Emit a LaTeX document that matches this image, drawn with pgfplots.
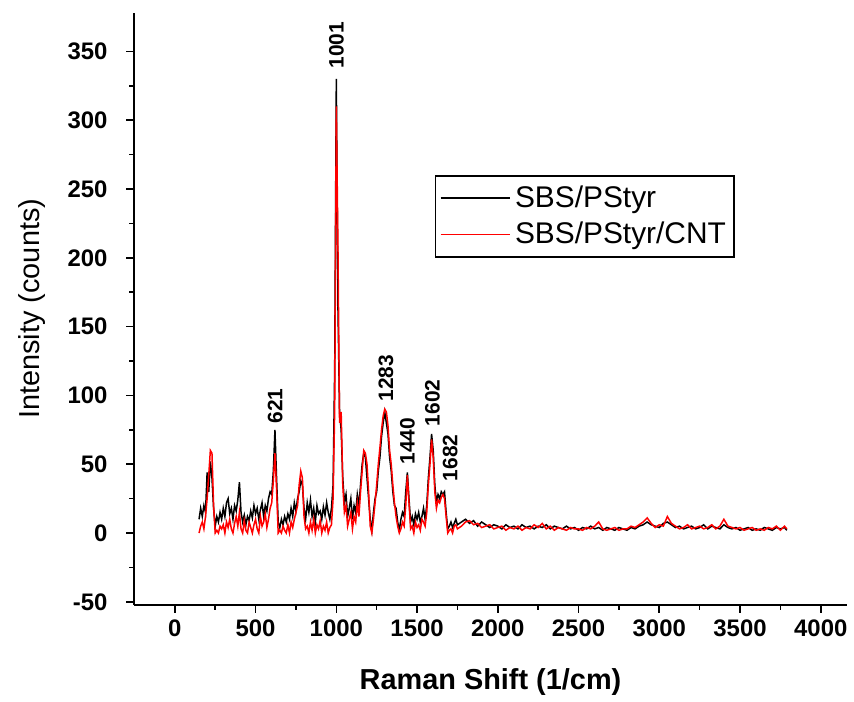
\documentclass[border=0pt]{standalone}
\usepackage{fontspec}
\setmainfont{Liberation Sans}
\usepackage{pgfplots}
\usepackage{pgfplotstable}
\pgfplotsset{compat=1.18}

% Raman spectra: x, SBS/PStyr, SBS/PStyr/CNT
\pgfplotstableread{
x blk red
150 10 0
160 18 5
170 12 8
180 20 3
190 15 12
200 44 25
210 30 42
220 52 60
230 40 58
240 18 20
250 5 0
260 12 2
270 8 0
280 15 5
290 10 3
300 18 6
310 12 0
320 22 8
330 25 4
340 14 10
350 18 3
360 10 0
370 20 7
380 16 12
390 24 5
400 37 15
410 15 3
420 8 0
430 13 9
440 6 2
450 12 0
460 9 8
470 16 4
480 11 0
490 20 6
500 14 10
510 18 3
520 10 0
530 17 12
540 22 5
550 12 8
560 20 14
570 16 4
580 25 10
590 30 18
600 28 22
610 45 38
620 75 58
630 40 32
640 8 0
650 4 2
660 10 0
670 6 5
680 12 2
690 8 0
700 14 6
710 10 0
720 18 8
730 12 4
740 22 10
750 16 15
760 25 20
770 30 35
780 38 45
790 35 40
800 18 12
810 10 3
820 22 5
830 15 0
840 24 8
850 12 2
860 18 10
870 8 0
880 20 6
890 14 3
900 16 9
910 10 0
920 19 5
930 13 2
940 22 8
950 15 0
960 10 4
970 18 6
980 35 25
990 120 90
1000 330 310
1010 165 210
1020 88 80
1030 75 88
1040 40 35
1050 22 15
1060 28 20
1070 12 5
1080 18 10
1090 25 15
1100 10 3
1110 20 12
1120 15 8
1130 28 22
1140 20 12
1150 35 30
1160 50 45
1170 58 60
1180 55 58
1190 40 50
1200 25 30
1210 10 5
1220 2 0
1230 15 10
1240 25 22
1250 30 35
1260 45 50
1270 55 62
1280 70 75
1290 80 85
1300 88 90
1310 80 88
1320 72 78
1330 55 60
1340 45 50
1350 30 35
1360 20 22
1370 18 12
1380 8 5
1390 2 0
1400 10 3
1410 15 8
1420 12 5
1430 30 20
1440 44 42
1450 25 22
1460 8 3
1470 12 5
1480 6 0
1490 14 8
1500 10 4
1510 15 6
1520 8 2
1530 12 10
1540 18 8
1550 10 5
1560 20 15
1570 40 35
1580 55 50
1590 72 68
1600 60 55
1610 35 30
1620 22 18
1630 28 24
1640 25 22
1650 30 26
1660 28 28
1670 30 25
1680 15 12
1690 3 0
1700 5 2
1710 8 3
1720 4 0
1730 7 5
1740 10 6
1750 6 3
1775 8 5
1800 10 8
1825 7 9
1850 9 6
1875 5 7
1900 8 4
1925 6 5
1950 4 6
1975 6 3
2000 5 4
2025 3 5
2050 6 2
2075 4 4
2100 5 3
2125 3 5
2150 6 2
2175 4 4
2200 5 3
2225 3 6
2250 5 4
2275 4 7
2300 6 3
2325 3 5
2350 5 2
2375 4 4
2400 3 3
2425 5 2
2450 3 4
2475 4 3
2500 2 3
2525 4 2
2550 3 4
2575 5 3
2600 3 5
2625 4 8
2650 2 3
2675 4 2
2700 3 3
2725 2 4
2750 4 2
2775 3 3
2800 2 3
2825 4 5
2850 3 4
2875 5 6
2900 6 8
2925 8 11
2950 6 7
2975 5 4
3000 4 6
3025 7 5
3050 8 12
3075 6 7
3100 4 5
3125 5 3
3150 3 4
3175 4 6
3200 5 3
3225 3 4
3250 4 5
3275 6 3
3300 3 4
3325 5 6
3350 4 3
3375 3 5
3400 6 10
3425 4 5
3450 3 4
3475 4 3
3500 2 4
3525 3 2
3550 4 3
3575 2 4
3600 3 2
3625 2 3
3650 4 2
3675 3 4
3700 2 3
3725 4 5
3750 3 2
3775 4 5
3790 2 3
}\spectrum

\begin{document}
\begin{tikzpicture}
\begin{axis}[
    scale only axis,
    width=357.5pt, height=297pt,
    xmin=-250, xmax=4160,
    ymin=-52, ymax=378,
    axis lines*=left,
    axis line style={line width=1pt},
    tick align=outside,
    major tick length=4pt, minor tick length=2.5pt,
    every tick/.style={black, line width=0.8pt},
    xtick={0,500,...,4000},
    ytick={-50,0,...,350},
    minor x tick num=1, minor y tick num=1,
    scaled ticks=false,
    /pgf/number format/1000 sep={},
    /pgf/number format/assume math mode=true,
    ticklabel style={font=\bfseries\fontsize{12}{14}\selectfont},
    yticklabel style={xshift=-6pt},
    xlabel={\bfseries Raman Shift (1/cm)},
    ylabel={Intensity (counts)},
    label style={font=\fontsize{14.5}{17}\selectfont},
    xlabel style={yshift=-9pt},
    ylabel style={yshift=4pt},
    legend style={at={(0.422,0.726)}, anchor=north west,
        draw=black, line width=0.75pt,
        font=\fontsize{15}{18}\selectfont,
        inner xsep=2pt, inner ysep=3pt, row sep=2pt},
    legend cell align=left,
    legend image code/.code={\draw[#1, line width=0.8pt] (0pt,0pt) -- (35pt,0pt);},
    clip=false,
]
\addplot[black, line width=0.75pt] table[x=x, y=blk] {\spectrum};
\addlegendentry{SBS/PStyr}
\addplot[red, line width=0.75pt] table[x=x, y=red] {\spectrum};
\addlegendentry{SBS/PStyr/CNT}

\begin{scope}[every node/.style={rotate=90, anchor=west, inner sep=1pt,
    font=\bfseries\fontsize{10.5}{12}\selectfont}]
\node at (axis cs:621,78) {621};
\node at (axis cs:1001,336) {1001};
\node at (axis cs:1308,94) {1283};
\node at (axis cs:1440,48) {1440};
\node at (axis cs:1595,76) {1602};
\node at (axis cs:1705,36) {1682};
\end{scope}
% blank margins round the axis, as in the reference
\path ([yshift=6.5pt]rel axis cs:0,1) ([xshift=-67.5pt]rel axis cs:0,0)
      ([xshift=2pt]rel axis cs:1,0);
\end{axis}
\end{tikzpicture}
\end{document}
